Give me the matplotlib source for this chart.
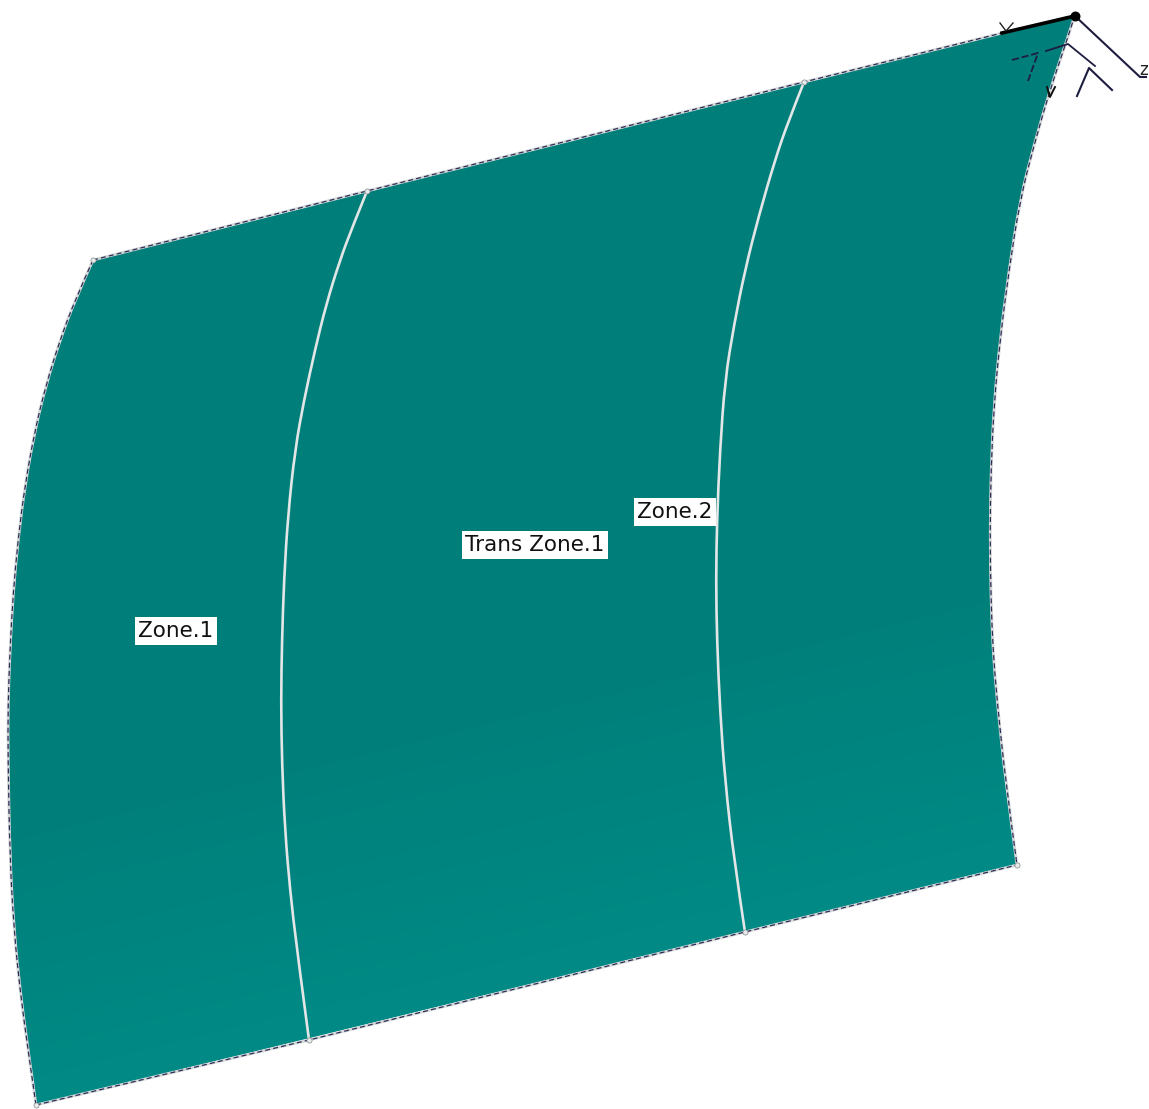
import numpy as np
import matplotlib
matplotlib.use("Agg")
import matplotlib.pyplot as plt
from matplotlib.patches import Polygon, PathPatch
from matplotlib.path import Path

W, H = 1149, 1109
# curves, in image pixels, top to bottom
left_x = [93, 75, 60, 46, 35, 25, 18, 13, 10, 8, 8, 10, 14, 20, 28, 36]
left_y = [260, 300, 340, 385, 430, 485, 540, 595, 650, 705, 760, 860, 930, 990, 1050, 1105]
line1_x = [367, 352, 340, 326, 315, 304, 295, 288, 284, 282, 281, 282, 285, 290, 297, 309]
line1_y = [191, 228, 260, 305, 350, 400, 450, 515, 580, 640, 700, 765, 830, 890, 950, 1040]
line2_x = [804, 788, 775, 759, 745, 734, 725, 720, 717, 716, 717, 720, 725, 734, 745]
line2_y = [82, 122, 160, 215, 270, 325, 380, 450, 520, 580, 640, 710, 780, 860, 932]
right_x = [1075, 1063, 1050, 1034, 1020, 1009, 1000, 994, 991, 990, 991, 993, 997, 1006, 1017]
right_y = [15, 52, 90, 145, 200, 270, 340, 405, 470, 535, 600, 650, 700, 785, 865]
zone_labels = ["Zone.1", "Trans Zone.1", "Zone.2"]
zone_x = [176, 535, 675]
zone_y = [631, 545, 512]

TEAL_TOP, TEAL_BOT = "#007f7a", "#008a86"


def smooth_path(xs, ys):
    """Quadratic path through the read points, so the curves have no corners."""
    p = np.column_stack([xs, ys]).astype(float)
    verts, codes = [p[0]], [Path.MOVETO]
    for i in range(1, len(p) - 1):
        end = p[i + 1] if i == len(p) - 2 else (p[i] + p[i + 1]) / 2
        verts += [p[i], end]
        codes += [Path.CURVE3, Path.CURVE3]
    return Path(verts, codes)


fig = plt.figure(figsize=(W / 100, H / 100), dpi=100)
ax = fig.add_axes([0, 0, 1, 1])
ax.axis("off")

outline = list(zip(left_x, left_y)) + list(zip(right_x[::-1], right_y[::-1]))
poly = Polygon(outline, closed=True, facecolor="none", edgecolor="none")
ax.add_patch(poly)

# shading: iso-lines run parallel to the bottom edge
gx, gy = np.meshgrid(np.linspace(0, W, 120), np.linspace(0, H, 120))
shade = np.clip((gy + 0.245 * gx - 820) / (1114 - 820), 0, 1)
cmap = matplotlib.colors.LinearSegmentedColormap.from_list("t", [TEAL_TOP, TEAL_BOT])
im = ax.imshow(shade, extent=(0, W, H, 0), cmap=cmap, aspect="auto",
               interpolation="bilinear", zorder=1)
im.set_clip_path(poly)
ax.set_xlim(0, W)
ax.set_ylim(H, 0)

# outer edges: dark dashes over a pale line
curved = [(left_x, left_y), (right_x, right_y)]
straight = [
    ([left_x[0], line1_x[0], line2_x[0], right_x[0]], [left_y[0], line1_y[0], line2_y[0], right_y[0]]),
    ([left_x[-1], line1_x[-1], line2_x[-1], right_x[-1]], [left_y[-1], line1_y[-1], line2_y[-1], right_y[-1]]),
]
for ex, ey in curved + straight:
    pth = smooth_path(ex, ey) if (ex, ey) in curved else Path(np.column_stack([ex, ey]))
    ax.add_patch(PathPatch(pth, fill=False, edgecolor="#d5d9d9", lw=2.0, zorder=3))
    ax.add_patch(PathPatch(pth, fill=False, edgecolor="#2c2c55", lw=0.9,
                           linestyle=(0, (4, 2.5)), zorder=3.5))
for lx, ly in [(line1_x, line1_y), (line2_x, line2_y)]:
    ax.add_patch(PathPatch(smooth_path(lx, ly), fill=False, edgecolor="#e3e6e6", lw=1.9, zorder=3))

# corner and junction dots
vx = [left_x[0], line1_x[0], line2_x[0], left_x[-1], line1_x[-1], line2_x[-1], right_x[-1]]
vy = [left_y[0], line1_y[0], line2_y[0], left_y[-1], line1_y[-1], line2_y[-1], right_y[-1]]
ax.scatter(vx, vy, s=14, facecolor="#e8eaea", edgecolor="#667078", linewidth=0.4, zorder=4)

for s, x, y in zip(zone_labels, zone_x, zone_y):
    ax.text(x, y, s, ha="center", va="center", fontsize=15.5, color="#111111",
            family="DejaVu Sans", zorder=6,
            bbox=dict(facecolor="white", edgecolor="none", pad=2.6))

# axis triad at the top right corner
INK = "#1d1d40"
ax.plot([1002, 1075], [33, 16], color="black", lw=2.6, zorder=5)
ax.plot([1075, 1140, 1146], [16, 77, 77], color=INK, lw=1.5, zorder=5)
ax.scatter([1075], [16], s=38, color="black", zorder=6)
ax.plot([1000, 1006, 1013], [23, 31, 23], color="#222222", lw=1.0, zorder=5)
ax.plot([1012, 1038, 1028], [60, 53, 81], color=INK, lw=1.3, dashes=(4, 1.5), zorder=5)
ax.plot([1046, 1068, 1095], [51, 44, 66], color=INK, lw=1.3, zorder=5)
ax.plot([1077, 1089, 1112], [96, 68, 90], color=INK, lw=1.5, zorder=5)
ax.plot([1047, 1050, 1055], [87, 97, 87], color="#111111", lw=1.4, zorder=5)
ax.text(1144, 70, "z", fontsize=12, color="#222222", ha="center", va="center", zorder=6, clip_on=False)

fig.savefig("out.png", dpi=100, facecolor="white")
